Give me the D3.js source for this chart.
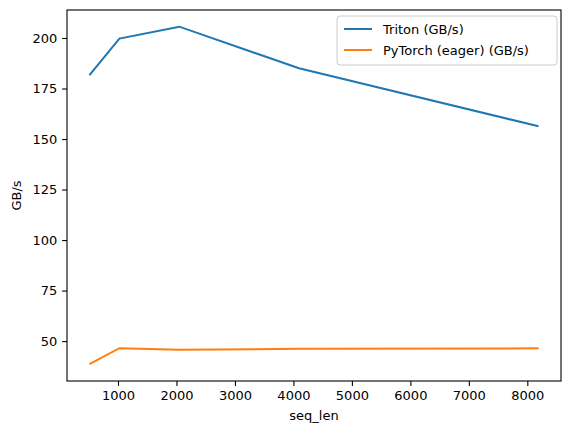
<!DOCTYPE html>
<html><head><meta charset="utf-8">
<script src="https://cdn.jsdelivr.net/npm/d3@7"></script>
<style>body{margin:0;background:#fff}text{font-family:"DejaVu Sans",sans-serif}</style>
</head><body><svg id="c" width="571" height="433"></svg>
<script>
const seqLen = [512, 1024, 2048, 4096, 8192];
const triton = [181.6, 199.7, 205.6, 185.0, 156.3];
const torch = [38.6, 46.5, 45.7, 46.2, 46.4];
const xTicks = [1000,2000,3000,4000,5000,6000,7000,8000];
const yTicks = [50,75,100,125,150,175,200];
const seriesNames = ["Triton (GB/s)", "PyTorch (eager) (GB/s)"];
const colors = ["#1f77b4", "#ff7f0e"];

const L=67,R=561,T=10,B=381;
const svg=d3.select("#c");
const x=d3.scaleLinear().domain([128,8576]).range([L,R]);
const y=d3.scaleLinear().domain([30.25,213.85]).range([B,T]);
const xa=svg.append("g").attr("transform",`translate(0,${B})`).call(d3.axisBottom(x).tickValues(xTicks).tickSize(4.9).tickPadding(4.9).tickFormat(d3.format("d")));
const ya=svg.append("g").attr("transform",`translate(${L},0)`).call(d3.axisLeft(y).tickValues(yTicks).tickSize(4.9).tickPadding(4.9).tickFormat(d3.format("d")));
[xa,ya].forEach(a=>{a.select(".domain").remove();a.selectAll("text").attr("font-size",13).attr("fill","#000");a.selectAll("line").attr("stroke","#000").attr("stroke-width",1.1);});
svg.append("rect").attr("x",L).attr("y",T).attr("width",R-L).attr("height",B-T).attr("fill","none").attr("stroke","#000").attr("stroke-width",1.1);
const line=d3.line().x((d,i)=>x(seqLen[i])).y(d=>y(d));
[triton,torch].forEach((s,k)=>svg.append("path").attr("d",line(s)).attr("fill","none").attr("stroke",colors[k]).attr("stroke-width",2));
svg.append("text").attr("x",(L+R)/2).attr("y",420).attr("text-anchor","middle").attr("font-size",13).text("seq_len");
svg.append("text").attr("transform",`translate(21,${(T+B)/2}) rotate(-90)`).attr("text-anchor","middle").attr("font-size",13).text("GB/s");
const lg=svg.append("g");
lg.append("rect").attr("x",337).attr("y",16).attr("width",220).attr("height",49).attr("rx",3).attr("fill","#fff").attr("fill-opacity",0.8).attr("stroke","#ccc");
seriesNames.forEach((n,i)=>{
  const yy=29+i*21;
  lg.append("line").attr("x1",344).attr("x2",372).attr("y1",yy).attr("y2",yy).attr("stroke",colors[i]).attr("stroke-width",2);
  lg.append("text").attr("x",383).attr("y",yy+4.5).attr("font-size",13).text(n);
});
</script></body></html>
